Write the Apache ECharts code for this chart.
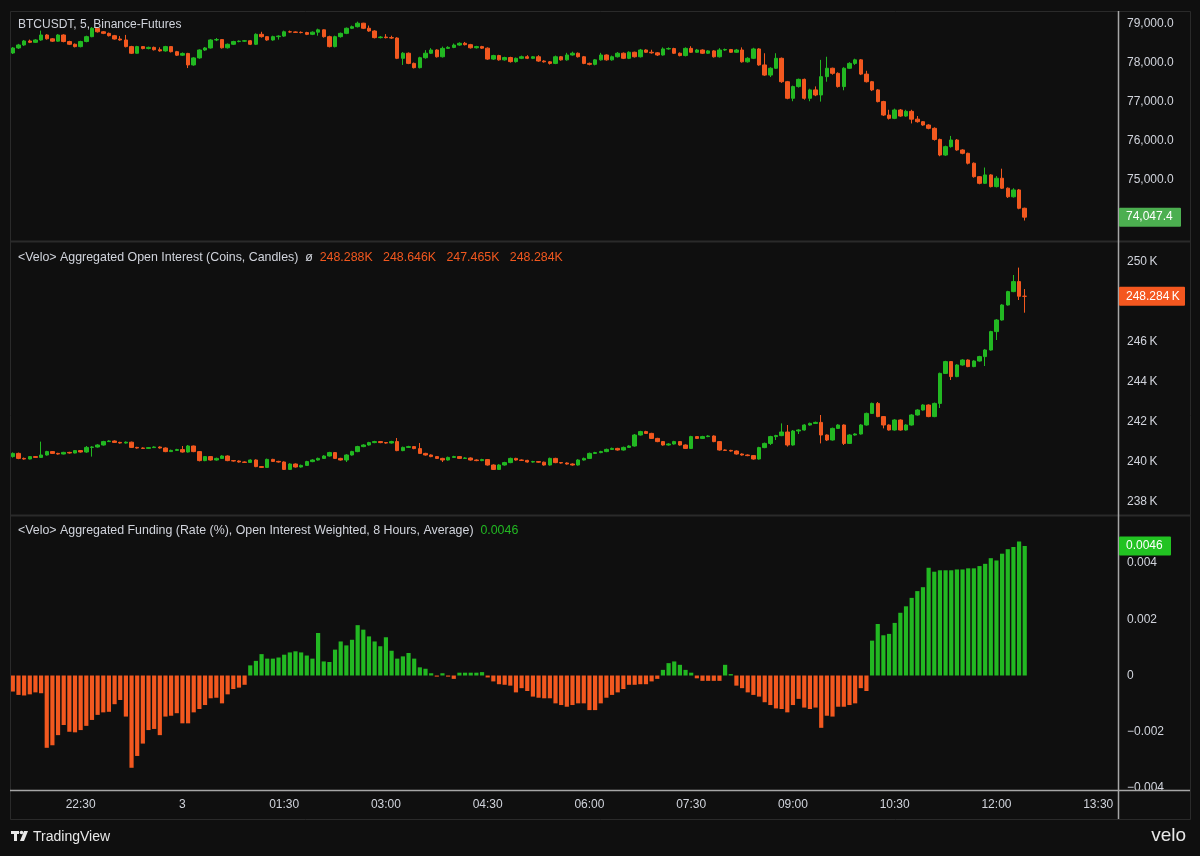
<!DOCTYPE html>
<html><head><meta charset="utf-8">
<script src="https://cdn.jsdelivr.net/npm/echarts@6/dist/echarts.min.js"></script>
<style>html,body{margin:0;padding:0;background:#0f0f0f;}#c{width:1200px;height:856px;}</style>
</head><body><div id="c"></div><script>
// ---------- DATA ----------
const startTime = '21:30';
const slotCount = 196; // 5-minute slots shown on the time axis (21:30 .. 13:45)
const xTickLabels = ['22:30','00:00','01:30','03:00','04:30','06:00','07:30','09:00','10:30','12:00','13:30'];
const xTickText = {'00:00':'3'};

const priceFirstOpen = 78256;
const priceClose = [78385,78462,78564,78530,78590,78718,78620,78560,78718,78550,
78480,78420,78550,78675,78890,78800,78760,78700,78615,78590,
78420,78250,78420,78370,78400,78340,78310,78420,78290,78200,
78245,77950,78130,78333,78385,78590,78600,78390,78480,78550,
78560,78570,78480,78735,78675,78590,78675,78690,78800,78795,
78785,78780,78735,78790,78850,78675,78420,78675,78760,78890,
78930,79020,78890,78820,78650,78665,78650,78640,78120,78250,
77990,77880,78135,78250,78333,78160,78375,78400,78460,78505,
78470,78390,78420,78380,78100,78190,78080,78140,78035,78120,
78160,78120,78160,78050,78030,77990,78160,78080,78205,78250,
78160,77990,77965,78080,78205,78080,78160,78250,78120,78275,
78160,78333,78275,78260,78205,78360,78370,78250,78190,78375,
78275,78333,78250,78310,78160,78333,78345,78275,78333,78030,
78120,78360,77950,77690,77865,78120,77520,77095,77395,77580,
77095,77310,77180,77650,77865,77735,77395,77865,77990,78080,
77715,77520,77310,77010,76665,76580,76795,76640,76760,76560,
76495,76410,76325,76040,75640,75855,76025,75770,75685,75430,
75085,74915,75130,74830,75045,74790,74570,74745,74275,74047.4];
const priceHigh = [78410,78490,78590,78600,78610,78830,78740,78640,78740,78735,
78570,78500,78570,78700,78920,78910,78820,78780,78720,78690,
78720,78440,78440,78430,78420,78420,78400,78440,78430,78310,
78270,78260,78150,78350,78410,78610,78640,78610,78500,78570,
78580,78590,78590,78760,78800,78690,78700,78710,78830,78830,
78810,78810,78800,78810,78880,78860,78700,78700,78780,78910,
78960,79060,79030,78960,78840,78690,78740,78700,78660,78280,
78270,78010,78160,78330,78380,78350,78420,78430,78500,78530,
78540,78490,78440,78440,78400,78210,78210,78160,78160,78140,
78190,78200,78180,78200,78070,78050,78190,78180,78260,78290,
78270,78180,78010,78100,78260,78220,78190,78280,78270,78300,
78290,78360,78350,78340,78280,78400,78400,78390,78270,78400,
78430,78360,78350,78330,78330,78380,78370,78360,78360,78400,
78150,78390,78380,78250,77890,78250,78140,77540,77420,77600,
77600,77340,77400,78080,78160,77880,77760,77890,78020,78110,
78100,77800,77540,77330,77030,76800,76830,76820,76800,76800,
76640,76510,76430,76350,76060,75880,76130,76050,75790,75700,
75450,75100,75320,75150,75100,75290,74810,74790,74770,74290];
const priceLow = [78230,78360,78440,78510,78515,78570,78600,78540,78545,78530,
78460,78400,78400,78530,78660,78780,78740,78680,78600,78570,
78400,78230,78240,78350,78350,78320,78290,78290,78270,78180,
78180,77870,77930,78110,78310,78370,78560,78370,78370,78460,
78530,78540,78460,78460,78650,78570,78570,78600,78670,78780,
78770,78760,78715,78715,78700,78650,78400,78400,78650,78740,
78870,78910,78870,78800,78630,78630,78630,78620,78100,77950,
77970,77860,77860,78110,78230,78140,78140,78360,78380,78440,
78450,78370,78370,78360,78080,78080,78060,78060,78010,78010,
78100,78100,78100,78030,78010,77960,77970,78060,78060,78190,
78140,77970,77940,77940,78060,78060,78060,78140,78100,78100,
78140,78140,78260,78240,78180,78190,78340,78230,78170,78170,
78260,78260,78230,78230,78140,78140,78310,78260,78260,78010,
78010,78100,77930,77670,77640,77850,77490,77070,77020,77370,
77060,77020,77150,77010,77520,77700,77370,77300,77850,77950,
77690,77500,77280,76990,76640,76550,76560,76620,76620,76450,
76470,76390,76300,76010,75610,75620,75830,75750,75660,75400,
75060,74890,74900,74810,74810,74770,74540,74550,74250,73960];

const oiFirstOpen = 240.27;
const oiClose = [240.43,240.18,240.15,240.27,240.23,240.35,240.52,240.43,240.40,240.48,
240.45,240.57,240.50,240.73,240.75,240.85,241.02,241.05,240.98,240.95,
240.99,240.73,240.70,240.68,240.72,240.75,240.70,240.52,240.58,240.62,
240.50,240.80,240.52,240.07,240.27,240.10,240.18,240.30,240.07,240.05,
240.00,239.98,240.10,239.77,239.73,240.13,240.03,240.00,239.63,239.90,
239.75,239.83,240.02,240.10,240.18,240.30,240.47,240.18,240.10,240.35,
240.52,240.77,240.85,240.97,241.02,240.97,240.95,241.02,240.57,240.73,
240.77,240.67,240.43,240.35,240.27,240.18,240.10,240.23,240.27,240.18,
240.20,240.10,240.07,240.12,239.85,239.63,239.85,239.97,240.18,240.10,
240.08,240.00,240.02,239.99,239.85,240.18,239.97,239.95,239.90,239.85,
240.10,240.18,240.43,240.47,240.52,240.63,240.68,240.60,240.73,240.80,
241.35,241.52,241.43,241.18,241.02,240.85,240.90,241.02,240.85,240.68,
241.27,241.18,241.27,241.30,241.02,240.60,240.58,240.55,240.40,240.35,
240.32,240.15,240.72,240.93,241.27,241.32,241.50,240.85,241.55,241.60,
241.85,241.93,241.98,241.35,241.10,241.68,241.85,240.93,241.35,241.40,
241.85,242.43,242.93,242.27,241.85,241.60,242.10,241.60,241.85,242.35,
242.60,242.85,242.27,242.93,244.43,245.02,244.27,244.85,245.10,244.77,
245.05,245.27,245.60,246.52,247.10,247.85,248.52,249.02,248.288,248.284];
const oiHigh = [240.48,240.47,240.22,240.30,240.30,241.02,240.56,240.55,240.46,240.51,
240.51,240.60,240.60,240.80,240.79,240.89,241.06,241.09,241.08,241.01,
241.03,241.02,240.76,240.73,240.75,240.78,240.78,240.73,240.62,240.66,
240.80,240.85,240.82,240.55,240.30,240.30,240.22,240.34,240.33,240.10,
240.08,240.03,240.13,240.13,239.80,240.17,240.16,240.06,240.03,239.94,
239.93,239.87,240.06,240.14,240.22,240.34,240.51,240.50,240.21,240.39,
240.56,240.81,240.89,241.01,241.06,241.05,241.00,241.06,241.20,240.77,
240.81,240.80,240.95,240.46,240.38,240.30,240.21,240.27,240.31,240.30,
240.24,240.23,240.13,240.16,240.15,239.88,239.89,240.01,240.22,240.21,
240.13,240.11,240.06,240.05,240.02,240.22,240.21,240.00,239.98,239.93,
240.14,240.22,240.47,240.51,240.56,240.67,240.72,240.71,240.77,240.84,
241.40,241.56,241.56,241.46,241.21,241.05,240.94,241.06,241.05,240.88,
241.31,241.30,241.31,241.34,241.33,241.05,240.63,240.61,240.58,240.43,
240.38,240.35,240.76,240.97,241.31,241.36,241.93,241.85,241.60,241.64,
241.89,241.97,242.02,242.35,241.38,241.72,241.89,241.88,241.39,241.44,
241.89,242.47,242.97,243.00,242.30,241.88,242.14,242.13,241.89,242.39,
242.64,242.89,242.88,242.97,244.47,245.06,245.05,244.89,245.14,245.13,
245.09,245.31,245.64,246.56,247.14,247.89,248.56,249.35,249.72,248.646];
const oiLow = [240.22,240.14,240.12,240.13,240.20,240.20,240.32,240.40,240.37,240.38,
240.42,240.43,240.47,240.46,240.27,240.72,240.82,241.00,240.95,240.92,
240.92,240.70,240.67,240.65,240.65,240.70,240.67,240.49,240.50,240.55,
240.47,240.47,240.49,240.03,240.04,240.07,240.07,240.15,240.04,240.02,
239.97,239.95,239.95,239.74,239.70,239.70,240.00,239.97,239.60,239.60,
239.72,239.72,239.80,239.99,240.07,240.15,240.27,240.15,240.07,240.00,
240.32,240.49,240.74,240.82,240.94,240.94,240.92,240.92,240.54,240.54,
240.70,240.64,240.40,240.32,240.24,240.15,240.00,240.07,240.20,240.15,
240.15,240.07,240.04,240.04,239.82,239.60,239.60,239.82,239.94,240.07,
240.05,239.97,239.97,239.96,239.82,239.82,239.94,239.92,239.87,239.82,
239.82,240.07,240.15,240.40,240.44,240.49,240.60,240.57,240.57,240.70,
240.77,241.32,241.40,241.15,240.99,240.82,240.82,240.87,240.82,240.65,
240.65,241.15,241.15,241.24,240.99,240.57,240.55,240.52,240.37,240.32,
240.29,240.12,240.12,240.69,240.85,241.10,241.29,240.77,240.82,241.40,
241.57,241.82,241.90,240.93,241.05,241.07,241.65,240.85,240.90,241.32,
241.37,241.82,242.40,242.24,241.68,241.57,241.57,241.57,241.57,241.82,
242.32,242.57,242.24,242.24,242.70,244.40,244.10,244.24,244.82,244.74,
244.74,245.02,244.80,245.57,246.10,247.07,247.82,248.49,248.10,247.465];

const funding = [-0.00057,-0.00069,-0.00071,-0.00067,-0.00060,-0.00063,-0.00257,-0.00248,-0.00212,-0.00176,
-0.00200,-0.00202,-0.00194,-0.00179,-0.00158,-0.00140,-0.00131,-0.00129,-0.00102,-0.00087,
-0.00146,-0.00328,-0.00286,-0.00242,-0.00194,-0.00190,-0.00212,-0.00146,-0.00143,-0.00134,
-0.00170,-0.00170,-0.00131,-0.00119,-0.00105,-0.00081,-0.00079,-0.00099,-0.00067,-0.00048,
-0.00043,-0.00033,0.00036,0.00052,0.00076,0.00060,0.00060,0.00064,0.00074,0.00082,
0.00086,0.00082,0.00071,0.00060,0.00151,0.00050,0.00048,0.00092,0.00121,0.00107,
0.00127,0.00179,0.00163,0.00139,0.00121,0.00104,0.00136,0.00088,0.00060,0.00068,
0.00080,0.00060,0.00029,0.00024,0.00008,-0.00004,0.00008,-0.00004,-0.00012,0.00010,
0.00010,0.00010,0.00010,0.00012,-0.00007,-0.00021,-0.00031,-0.00033,-0.00036,-0.00060,
-0.00045,-0.00055,-0.00075,-0.00079,-0.00081,-0.00081,-0.00099,-0.00105,-0.00111,-0.00105,
-0.00099,-0.00099,-0.00123,-0.00123,-0.00099,-0.00079,-0.00069,-0.00060,-0.00048,-0.00033,
-0.00033,-0.00031,-0.00031,-0.00021,-0.00012,0.00020,0.00044,0.00050,0.00038,0.00020,
0.00010,-0.00010,-0.00019,-0.00019,-0.00019,-0.00019,0.00038,0.00005,-0.00036,-0.00045,
-0.00060,-0.00069,-0.00075,-0.00095,-0.00105,-0.00117,-0.00119,-0.00131,-0.00105,-0.00083,
-0.00114,-0.00119,-0.00114,-0.00186,-0.00143,-0.00146,-0.00111,-0.00111,-0.00105,-0.00099,
-0.00045,-0.00055,0.00124,0.00183,0.00143,0.00148,0.00187,0.00223,0.00246,0.00276,
0.00300,0.00314,0.00383,0.00369,0.00374,0.00374,0.00374,0.00377,0.00377,0.00381,
0.00381,0.00389,0.00397,0.00417,0.00409,0.00433,0.00449,0.00457,0.00476,0.00460];

const priceTicks = [75000,76000,77000,78000,79000];
const oiTicks = [238,240,242,244,246,248,250];
const fundingTicks = [-0.004,-0.002,0,0.002,0.004];

// ---------- STYLE ----------
const UP = '#22b822', DOWN = '#f2581f';
const TXT = '#d1d4dc';
const FONT = '"Liberation Sans", Arial, sans-serif';
const GRID_L = 10, GRID_R = 82;

// categories (time axis)
const categories = [];
{
  let [h, m] = startTime.split(':').map(Number);
  for (let k = 0; k < slotCount; k++) {
    categories.push(String(h).padStart(2,'0') + ':' + String(m).padStart(2,'0'));
    m += 5; if (m >= 60) { m -= 60; h = (h + 1) % 24; }
  }
}

const priceData = priceClose.map((c, i) => [i === 0 ? priceFirstOpen : priceClose[i-1], c, priceLow[i], priceHigh[i]]);
const oiData = oiClose.map((c, i) => [i === 0 ? oiFirstOpen : oiClose[i-1], c, oiLow[i], oiHigh[i]]);

const xBase = (idx, show) => ({
  type: 'category', gridIndex: idx, data: categories, boundaryGap: true,
  axisLine: {show: false}, axisTick: {show: false}, splitLine: {show: false},
  axisLabel: show ? {
    show: true, color: TXT, fontFamily: FONT, fontSize: 12, margin: 9,
    interval: (i, v) => xTickLabels.includes(v),
    formatter: v => xTickText[v] || v
  } : {show: false}
});
const yBase = (idx, min, max, ticks, fmt) => ({
  type: 'value', gridIndex: idx, position: 'right', min, max, scale: true,
  axisLine: {show: false}, axisTick: {show: false}, splitLine: {show: false},
  axisLabel: {color: TXT, fontFamily: FONT, fontSize: 12, margin: 9, customValues: ticks, formatter: fmt}
});

const candleStyle = {color: UP, color0: DOWN, borderColor: UP, borderColor0: DOWN, borderColorDoji: DOWN, borderWidth: 1};

const option = {
  backgroundColor: '#0f0f0f',
  animation: false,
  grid: [
    {left: GRID_L, right: GRID_R, top: 11, height: 230},
    {left: GRID_L, right: GRID_R, top: 242, height: 273},
    {left: GRID_L, right: GRID_R, top: 516, height: 274}
  ],
  xAxis: [xBase(0, false), xBase(1, false), xBase(2, true)],
  yAxis: [
    yBase(0, 73436, 79333, priceTicks, v => v.toLocaleString('en-US', {minimumFractionDigits: 1, maximumFractionDigits: 1})),
    yBase(1, 237.35, 251.0, oiTicks, v => v + '\u2009K'),
    yBase(2, -0.00407, 0.00567, fundingTicks, v => v === 0 ? '0' : (v < 0 ? '\u2212' + Math.abs(v).toFixed(3) : v.toFixed(3)))
  ],
  series: [
    {type: 'candlestick', xAxisIndex: 0, yAxisIndex: 0, data: priceData, barWidth: '70%', itemStyle: candleStyle},
    {type: 'candlestick', xAxisIndex: 1, yAxisIndex: 1, data: oiData, barWidth: '70%', itemStyle: candleStyle},
    {type: 'bar', xAxisIndex: 2, yAxisIndex: 2, data: funding, barWidth: '74%',
     itemStyle: {color: p => p.value >= 0 ? UP : DOWN}}
  ]
};

const chart = echarts.init(document.getElementById('c'), null, {renderer: 'canvas'});
chart.setOption(option);

// ---------- overlay: frame, titles, last-value tags ----------
const lastPrice = priceClose[priceClose.length - 1];
const nOI = oiClose.length - 1;
const lastOI = oiData[nOI];
const lastFunding = funding[funding.length - 1];
const yPrice = chart.convertToPixel({yAxisIndex: 0}, lastPrice);
const yOI = chart.convertToPixel({yAxisIndex: 1}, lastOI[1]);
const yFund = chart.convertToPixel({yAxisIndex: 2}, lastFunding);
const axX = 1118;

function tag(y, w, text, bg) {
  return [
    {type: 'rect', shape: {x: axX + 1, y: y - 9.5, width: w, height: 19, r: 1}, style: {fill: bg}, z: 100},
    {type: 'text', x: axX + 8, y: y, style: {text, fill: '#ffffff', font: '12px ' + FONT, verticalAlign: 'middle'}, z: 101}
  ];
}
const k = v => v.toFixed(3) + 'K';
const LINE = '#2a2a2a', AXIS = '#a6a6a6';
const TF = '12.4px ' + FONT;

const graphics = [
  {type: 'rect', shape: {x: 10.5, y: 11.5, width: 1180, height: 808}, style: {fill: null, stroke: LINE, lineWidth: 1}, z: 50},
  {type: 'line', shape: {x1: 10, y1: 241.5, x2: 1190, y2: 241.5}, style: {stroke: LINE, lineWidth: 2}, z: 50},
  {type: 'line', shape: {x1: 10, y1: 515.5, x2: 1190, y2: 515.5}, style: {stroke: LINE, lineWidth: 2}, z: 50},
  {type: 'line', shape: {x1: 10, y1: 790.5, x2: 1190, y2: 790.5}, style: {stroke: AXIS, lineWidth: 1.5}, z: 60},
  {type: 'line', shape: {x1: axX + 0.5, y1: 11, x2: axX + 0.5, y2: 819}, style: {stroke: AXIS, lineWidth: 1.5}, z: 60},
  {type: 'text', x: 18, y: 25, style: {text: 'BTCUSDT, 5, Binance-Futures', fill: TXT, font: '12px ' + FONT, verticalAlign: 'middle'}, z: 70},
  {type: 'text', x: 18, y: 258, style: {
    text: '{w|<Velo> Aggregated Open Interest (Coins, Candles)  \u00f8  }{o|' +
      [k(lastOI[0]), k(lastOI[3]), k(lastOI[2]), k(lastOI[1])].join('   ') + '}',
    verticalAlign: 'middle',
    rich: {w: {fill: TXT, font: TF}, o: {fill: DOWN, font: TF}}
  }, z: 70},
  {type: 'text', x: 18, y: 531, style: {
    text: '{w|<Velo> Aggregated Funding (Rate (%), Open Interest Weighted, 8 Hours, Average)  }{g|' + lastFunding.toFixed(4) + '}',
    verticalAlign: 'middle',
    rich: {w: {fill: TXT, font: TF}, g: {fill: UP, font: TF}}
  }, z: 70},
  ...tag(yPrice, 62, lastPrice.toLocaleString('en-US', {minimumFractionDigits: 1}), '#4caf50'),
  ...tag(yOI, 66, lastOI[1].toFixed(3) + '\u2009K', '#f4571f'),
  ...tag(yFund, 52, lastFunding.toFixed(4), '#22c322'),
  // footer: TradingView logo + wordmark, velo
  {type: 'rect', shape: {x: 11, y: 831, width: 8, height: 3}, style: {fill: '#e8e8e8'}, z: 70},
  {type: 'rect', shape: {x: 14, y: 831, width: 3, height: 10}, style: {fill: '#e8e8e8'}, z: 70},
  {type: 'circle', shape: {cx: 21.5, cy: 832.5, r: 1.8}, style: {fill: '#e8e8e8'}, z: 70},
  {type: 'polygon', shape: {points: [[24, 831], [28, 831], [24, 841], [20, 841]]}, style: {fill: '#e8e8e8'}, z: 70},
  {type: 'text', x: 33, y: 837, style: {text: 'TradingView', fill: '#e8e8e8', font: '14px ' + FONT, verticalAlign: 'middle'}, z: 70},
  {type: 'text', x: 1186, y: 836, style: {text: 'velo', fill: '#e8e8e8', font: '19px ' + FONT, verticalAlign: 'middle', align: 'right'}, z: 70}
];
chart.setOption({graphic: graphics});
</script></body></html>
